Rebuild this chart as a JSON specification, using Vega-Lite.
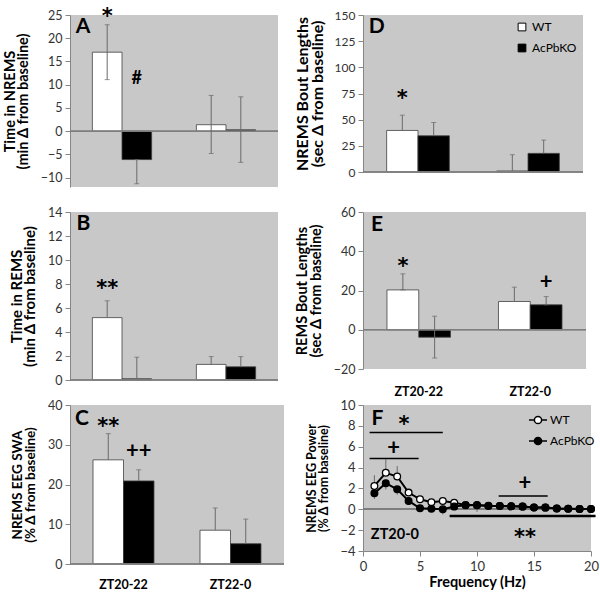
{
  "$schema": "https://vega.github.io/schema/vega-lite/v6.json",
  "padding": {"left": 2, "top": 5, "right": 0, "bottom": 0},
  "columns": 2,
  "spacing": {"row": 25, "column": 79},
  "bounds": "flush",
  "align": "each",
  "resolve": {"scale": {"x": "independent", "y": "independent", "xOffset": "independent", "fill": "independent"}, "legend": {"fill": "independent"}},
  "config": {
    "font": "Lato",
    "view": {"fill": "#c8c8c8", "stroke": null},
    "axis": {"domainColor": "#868686", "tickColor": "#868686", "tickSize": 5, "labelColor": "#333333", "labelFont": "Lato", "labelFontSize": 12.5, "labelOverlap": false, "labelFlush": false, "labelBound": false, "titleFont": "Lato", "titleFontSize": 14.5, "titleFontWeight": "bold", "titleColor": "black", "grid": false, "labelPadding": 3, "titleLineHeight": 13, "titlePadding": 10},
    "axisQuantitative": {"labelOverlap": false, "format": "d", "tickCount": 30},
    "text": {"font": "Lato", "fontWeight": "bold", "color": "black", "baseline": "middle"}
  },
  "concat": [
    {
      "width": 208, "height": 172,
      "data": {"values": [
        {"group": "ZT20-22", "genotype": "WT", "value": 17.0, "lo": 11.1, "hi": 22.9},
        {"group": "ZT20-22", "genotype": "AcPbKO", "value": -6.1, "lo": -11.3, "hi": -6.1},
        {"group": "ZT22-0", "genotype": "WT", "value": 1.4, "lo": -4.8, "hi": 7.7},
        {"group": "ZT22-0", "genotype": "AcPbKO", "value": 0.3, "lo": -6.7, "hi": 7.4}
      ]},
      "layer": [
        {"mark": {"type": "bar", "stroke": "#404040", "strokeWidth": 0.8},
         "encoding": {
           "x": {"field": "group", "type": "nominal", "sort": ["ZT20-22", "ZT22-0"], "scale": {"paddingInner": 0.43, "paddingOuter": 0.215}, "axis": null},
           "xOffset": {"field": "genotype", "type": "nominal", "scale": {"domain": ["WT", "AcPbKO"], "paddingInner": 0, "paddingOuter": 0}},
           "y": {"field": "value", "type": "quantitative", "scale": {"domain": [-12, 25], "nice": false, "zero": false}, "axis": {"values": [-10, -5, 0, 5, 10, 15, 20, 25], "tickCount": 30, "format": "d", "labelOverlap": false, "title": ["Time in NREMS", "(min Δ from baseline)"], "titleFontSize": 14.5, "titleLineHeight": 13}},
           "fill": {"field": "genotype", "type": "nominal", "scale": {"domain": ["WT", "AcPbKO"], "range": ["white", "black"]}, "legend": null}
         }},
        {"mark": {"type": "rule", "color": "#7f7f7f", "strokeWidth": 1}, "encoding": {"y": {"datum": 0}}},
        {"mark": {"type": "rule", "color": "#6a6a6a", "strokeWidth": 1},
         "encoding": {"x": {"field": "group", "type": "nominal"}, "xOffset": {"field": "genotype"}, "y": {"field": "lo", "type": "quantitative"}, "y2": {"field": "hi"}}},
        {"mark": {"type": "tick", "color": "#6a6a6a", "size": 5, "thickness": 1},
         "encoding": {"x": {"field": "group", "type": "nominal"}, "xOffset": {"field": "genotype"}, "y": {"field": "hi", "type": "quantitative"}}},
        {"mark": {"type": "tick", "color": "#6a6a6a", "size": 5, "thickness": 1},
         "encoding": {"x": {"field": "group", "type": "nominal"}, "xOffset": {"field": "genotype"}, "y": {"field": "lo", "type": "quantitative"}}},
        {"data": {"values": [{"group": "ZT20-22", "genotype": "WT", "y": 24.6, "label": "*"}]},
         "mark": {"type": "text", "fontSize": 21, "font": "DejaVu Sans"},
         "encoding": {"x": {"field": "group", "type": "nominal"}, "xOffset": {"field": "genotype"}, "y": {"field": "y", "type": "quantitative"}, "text": {"field": "label"}}},
        {"data": {"values": [{"group": "ZT20-22", "genotype": "AcPbKO", "y": 11.3, "label": "#"}]},
         "mark": {"type": "text", "fontSize": 18},
         "encoding": {"x": {"field": "group", "type": "nominal"}, "xOffset": {"field": "genotype"}, "y": {"field": "y", "type": "quantitative"}, "text": {"field": "label"}}},
        {"data": {"values": [{"group": "ZT20-22", "y": 22.5, "label": "A"}]},
         "mark": {"type": "text", "fontSize": 21, "align": "right", "dx": -2},
         "encoding": {"x": {"field": "group", "type": "nominal", "bandPosition": 0}, "y": {"field": "y", "type": "quantitative"}, "text": {"field": "label"}}}
      ]
    },
    {
      "width": 220, "height": 157,
      "data": {"values": [
        {"group": "ZT20-22", "genotype": "WT", "value": 39.7, "lo": 39.7, "hi": 54.3},
        {"group": "ZT20-22", "genotype": "AcPbKO", "value": 34.6, "lo": 34.6, "hi": 47.3},
        {"group": "ZT22-0", "genotype": "WT", "value": 1.0, "lo": 1.0, "hi": 16.5},
        {"group": "ZT22-0", "genotype": "AcPbKO", "value": 17.8, "lo": 17.8, "hi": 30.5}
      ]},
      "layer": [
        {"mark": {"type": "bar", "stroke": "#404040", "strokeWidth": 0.8},
         "encoding": {
           "x": {"field": "group", "type": "nominal", "sort": ["ZT20-22", "ZT22-0"], "scale": {"paddingInner": 0.43, "paddingOuter": 0.215}, "axis": null},
           "xOffset": {"field": "genotype", "type": "nominal", "scale": {"domain": ["WT", "AcPbKO"], "paddingInner": 0, "paddingOuter": 0}},
           "y": {"field": "value", "type": "quantitative", "scale": {"domain": [0, 150], "nice": false, "zero": false}, "axis": {"values": [0, 25, 50, 75, 100, 125, 150], "tickCount": 30, "format": "d", "labelOverlap": false, "labelFontSize": 12, "title": ["NREMS Bout Lengths", "(sec Δ from baseline)"], "titleFontSize": 16, "titleLineHeight": 15, "titlePadding": 9}},
           "fill": {"field": "genotype", "type": "nominal", "scale": {"domain": ["WT", "AcPbKO"], "range": ["white", "black"]},
             "legend": {"orient": "none", "legendX": 153, "legendY": 6, "title": null, "symbolType": "square", "symbolSize": 60, "symbolStrokeColor": "black", "symbolStrokeWidth": 1, "labelFontSize": 12, "labelFont": "Lato", "labelColor": "black", "rowPadding": 9, "labelOffset": 4, "padding": 0}}
         }},
        {"mark": {"type": "rule", "color": "#7f7f7f", "strokeWidth": 1}, "encoding": {"y": {"datum": 0}}},
        {"mark": {"type": "rule", "color": "#6a6a6a", "strokeWidth": 1},
         "encoding": {"x": {"field": "group", "type": "nominal"}, "xOffset": {"field": "genotype"}, "y": {"field": "lo", "type": "quantitative"}, "y2": {"field": "hi"}}},
        {"mark": {"type": "tick", "color": "#6a6a6a", "size": 5, "thickness": 1},
         "encoding": {"x": {"field": "group", "type": "nominal"}, "xOffset": {"field": "genotype"}, "y": {"field": "hi", "type": "quantitative"}}},
        {"data": {"values": [{"group": "ZT20-22", "genotype": "WT", "y": 69.4, "label": "*"}]},
         "mark": {"type": "text", "fontSize": 21, "font": "DejaVu Sans"},
         "encoding": {"x": {"field": "group", "type": "nominal"}, "xOffset": {"field": "genotype"}, "y": {"field": "y", "type": "quantitative"}, "text": {"field": "label"}}},
        {"data": {"values": [{"group": "ZT20-22", "y": 138.8, "label": "D"}]},
         "mark": {"type": "text", "fontSize": 21, "align": "right", "dx": -2},
         "encoding": {"x": {"field": "group", "type": "nominal", "bandPosition": 0}, "y": {"field": "y", "type": "quantitative"}, "text": {"field": "label"}}}
      ]
    },
    {
      "width": 208, "height": 168,
      "data": {"values": [
        {"group": "ZT20-22", "genotype": "WT", "value": 5.2, "lo": 5.2, "hi": 6.6},
        {"group": "ZT20-22", "genotype": "AcPbKO", "value": 0.1, "lo": 0.1, "hi": 1.9},
        {"group": "ZT22-0", "genotype": "WT", "value": 1.3, "lo": 1.3, "hi": 1.95},
        {"group": "ZT22-0", "genotype": "AcPbKO", "value": 1.1, "lo": 1.1, "hi": 1.95}
      ]},
      "layer": [
        {"mark": {"type": "bar", "stroke": "#404040", "strokeWidth": 0.8},
         "encoding": {
           "x": {"field": "group", "type": "nominal", "sort": ["ZT20-22", "ZT22-0"], "scale": {"paddingInner": 0.43, "paddingOuter": 0.215}, "axis": null},
           "xOffset": {"field": "genotype", "type": "nominal", "scale": {"domain": ["WT", "AcPbKO"], "paddingInner": 0, "paddingOuter": 0}},
           "y": {"field": "value", "type": "quantitative", "scale": {"domain": [0, 14], "nice": false, "zero": false}, "axis": {"values": [0, 2, 4, 6, 8, 10, 12, 14], "tickCount": 30, "format": "d", "labelOverlap": false, "title": ["Time in REMS", "(min Δ from baseline)"], "titleFontSize": 15, "titleLineHeight": 13.5}},
           "fill": {"field": "genotype", "type": "nominal", "scale": {"domain": ["WT", "AcPbKO"], "range": ["white", "black"]}, "legend": null}
         }},
        {"mark": {"type": "rule", "color": "#7f7f7f", "strokeWidth": 1}, "encoding": {"y": {"datum": 0}}},
        {"mark": {"type": "rule", "color": "#6a6a6a", "strokeWidth": 1},
         "encoding": {"x": {"field": "group", "type": "nominal"}, "xOffset": {"field": "genotype"}, "y": {"field": "lo", "type": "quantitative"}, "y2": {"field": "hi"}}},
        {"mark": {"type": "tick", "color": "#6a6a6a", "size": 5, "thickness": 1},
         "encoding": {"x": {"field": "group", "type": "nominal"}, "xOffset": {"field": "genotype"}, "y": {"field": "hi", "type": "quantitative"}}},
        {"data": {"values": [{"group": "ZT20-22", "genotype": "WT", "y": 7.6, "label": "**"}]},
         "mark": {"type": "text", "fontSize": 21, "font": "DejaVu Sans"},
         "encoding": {"x": {"field": "group", "type": "nominal"}, "xOffset": {"field": "genotype"}, "y": {"field": "y", "type": "quantitative"}, "text": {"field": "label"}}},
        {"data": {"values": [{"group": "ZT20-22", "y": 13.0, "label": "B"}]},
         "mark": {"type": "text", "fontSize": 21, "align": "right", "dx": -2},
         "encoding": {"x": {"field": "group", "type": "nominal", "bandPosition": 0}, "y": {"field": "y", "type": "quantitative"}, "text": {"field": "label"}}}
      ]
    },
    {
      "width": 223, "height": 157,
      "data": {"values": [
        {"group": "ZT20-22", "genotype": "WT", "value": 20.3, "lo": 20.3, "hi": 28.5},
        {"group": "ZT20-22", "genotype": "AcPbKO", "value": -3.8, "lo": -14.4, "hi": 6.9},
        {"group": "ZT22-0", "genotype": "WT", "value": 14.4, "lo": 14.4, "hi": 21.7},
        {"group": "ZT22-0", "genotype": "AcPbKO", "value": 12.7, "lo": 12.7, "hi": 16.9}
      ]},
      "layer": [
        {"mark": {"type": "bar", "stroke": "#404040", "strokeWidth": 0.8},
         "encoding": {
           "x": {"field": "group", "type": "nominal", "sort": ["ZT20-22", "ZT22-0"], "scale": {"paddingInner": 0.43, "paddingOuter": 0.215}, "axis": {"title": null, "ticks": false, "domain": false, "labelAngle": 0, "labelFontSize": 12.5, "labelFontWeight": "bold", "labelColor": "black", "labelPadding": 16}},
           "xOffset": {"field": "genotype", "type": "nominal", "scale": {"domain": ["WT", "AcPbKO"], "paddingInner": 0, "paddingOuter": 0}},
           "y": {"field": "value", "type": "quantitative", "scale": {"domain": [-20, 60], "nice": false, "zero": false}, "axis": {"values": [-20, 0, 20, 40, 60], "tickCount": 30, "format": "d", "labelOverlap": false, "title": ["REMS Bout Lengths", "(sec Δ from  baseline)"], "titleFontSize": 14.5, "titleLineHeight": 14}},
           "fill": {"field": "genotype", "type": "nominal", "scale": {"domain": ["WT", "AcPbKO"], "range": ["white", "black"]}, "legend": null}
         }},
        {"mark": {"type": "rule", "color": "#7f7f7f", "strokeWidth": 1}, "encoding": {"y": {"datum": 0}}},
        {"mark": {"type": "rule", "color": "#6a6a6a", "strokeWidth": 1},
         "encoding": {"x": {"field": "group", "type": "nominal"}, "xOffset": {"field": "genotype"}, "y": {"field": "lo", "type": "quantitative"}, "y2": {"field": "hi"}}},
        {"mark": {"type": "tick", "color": "#6a6a6a", "size": 5, "thickness": 1},
         "encoding": {"x": {"field": "group", "type": "nominal"}, "xOffset": {"field": "genotype"}, "y": {"field": "hi", "type": "quantitative"}}},
        {"mark": {"type": "tick", "color": "#6a6a6a", "size": 5, "thickness": 1},
         "encoding": {"x": {"field": "group", "type": "nominal"}, "xOffset": {"field": "genotype"}, "y": {"field": "lo", "type": "quantitative"}}},
        {"data": {"values": [{"group": "ZT20-22", "genotype": "WT", "y": 32.2, "label": "*"}]},
         "mark": {"type": "text", "fontSize": 21, "font": "DejaVu Sans"},
         "encoding": {"x": {"field": "group", "type": "nominal"}, "xOffset": {"field": "genotype"}, "y": {"field": "y", "type": "quantitative"}, "text": {"field": "label"}}},
        {"data": {"values": [{"group": "ZT22-0", "genotype": "AcPbKO", "y": 24.3, "label": "+"}]},
         "mark": {"type": "text", "fontSize": 22},
         "encoding": {"x": {"field": "group", "type": "nominal"}, "xOffset": {"field": "genotype"}, "y": {"field": "y", "type": "quantitative"}, "text": {"field": "label"}}},
        {"data": {"values": [{"group": "ZT20-22", "y": 53.2, "label": "E"}]},
         "mark": {"type": "text", "fontSize": 21, "align": "right", "dx": -4},
         "encoding": {"x": {"field": "group", "type": "nominal", "bandPosition": 0}, "y": {"field": "y", "type": "quantitative"}, "text": {"field": "label"}}}
      ]
    },
    {
      "width": 214, "height": 159,
      "data": {"values": [
        {"group": "ZT20-22", "genotype": "WT", "value": 26.2, "lo": 26.2, "hi": 32.8},
        {"group": "ZT20-22", "genotype": "AcPbKO", "value": 20.9, "lo": 20.9, "hi": 23.7},
        {"group": "ZT22-0", "genotype": "WT", "value": 8.5, "lo": 8.5, "hi": 14.1},
        {"group": "ZT22-0", "genotype": "AcPbKO", "value": 5.1, "lo": 5.1, "hi": 11.3}
      ]},
      "layer": [
        {"mark": {"type": "bar", "stroke": "#404040", "strokeWidth": 0.8},
         "encoding": {
           "x": {"field": "group", "type": "nominal", "sort": ["ZT20-22", "ZT22-0"], "scale": {"paddingInner": 0.43, "paddingOuter": 0.215}, "axis": {"title": null, "ticks": false, "domain": false, "labelAngle": 0, "labelFontSize": 12.5, "labelFontWeight": "bold", "labelColor": "black", "labelPadding": 14}},
           "xOffset": {"field": "genotype", "type": "nominal", "scale": {"domain": ["WT", "AcPbKO"], "paddingInner": 0, "paddingOuter": 0}},
           "y": {"field": "value", "type": "quantitative", "scale": {"domain": [0, 40], "nice": false, "zero": false}, "axis": {"values": [0, 10, 20, 30, 40], "tickCount": 30, "format": "d", "labelOverlap": false, "title": ["NREMS EEG SWA", "(% Δ from baseline)"], "titleFontSize": 13.5, "titleLineHeight": 13}},
           "fill": {"field": "genotype", "type": "nominal", "scale": {"domain": ["WT", "AcPbKO"], "range": ["white", "black"]}, "legend": null}
         }},
        {"mark": {"type": "rule", "color": "#7f7f7f", "strokeWidth": 1}, "encoding": {"y": {"datum": 0}}},
        {"mark": {"type": "rule", "color": "#6a6a6a", "strokeWidth": 1},
         "encoding": {"x": {"field": "group", "type": "nominal"}, "xOffset": {"field": "genotype"}, "y": {"field": "lo", "type": "quantitative"}, "y2": {"field": "hi"}}},
        {"mark": {"type": "tick", "color": "#6a6a6a", "size": 5, "thickness": 1},
         "encoding": {"x": {"field": "group", "type": "nominal"}, "xOffset": {"field": "genotype"}, "y": {"field": "hi", "type": "quantitative"}}},
        {"data": {"values": [{"group": "ZT20-22", "genotype": "WT", "y": 34.4, "label": "**"}]},
         "mark": {"type": "text", "fontSize": 21, "font": "DejaVu Sans"},
         "encoding": {"x": {"field": "group", "type": "nominal"}, "xOffset": {"field": "genotype"}, "y": {"field": "y", "type": "quantitative"}, "text": {"field": "label"}}},
        {"data": {"values": [{"group": "ZT20-22", "genotype": "AcPbKO", "y": 28.4, "label": "++"}]},
         "mark": {"type": "text", "fontSize": 22},
         "encoding": {"x": {"field": "group", "type": "nominal"}, "xOffset": {"field": "genotype"}, "y": {"field": "y", "type": "quantitative"}, "text": {"field": "label"}}},
        {"data": {"values": [{"group": "ZT20-22", "y": 36.4, "label": "C"}]},
         "mark": {"type": "text", "fontSize": 21, "align": "right", "dx": -4},
         "encoding": {"x": {"field": "group", "type": "nominal", "bandPosition": 0}, "y": {"field": "y", "type": "quantitative"}, "text": {"field": "label"}}}
      ]
    },
    {
      "width": 228, "height": 146,
      "data": {"values": [
        {"hz": 1, "genotype": "WT", "value": 2.24}, {"hz": 2, "genotype": "WT", "value": 3.5}, {"hz": 3, "genotype": "WT", "value": 3.14}, {"hz": 4, "genotype": "WT", "value": 1.6}, {"hz": 5, "genotype": "WT", "value": 0.96}, {"hz": 6, "genotype": "WT", "value": 0.68}, {"hz": 7, "genotype": "WT", "value": 0.8}, {"hz": 8, "genotype": "WT", "value": 0.62}, {"hz": 9, "genotype": "WT", "value": 0.42}, {"hz": 10, "genotype": "WT", "value": 0.4}, {"hz": 11, "genotype": "WT", "value": 0.34}, {"hz": 12, "genotype": "WT", "value": 0.32}, {"hz": 13, "genotype": "WT", "value": 0.28}, {"hz": 14, "genotype": "WT", "value": 0.26}, {"hz": 15, "genotype": "WT", "value": 0.18}, {"hz": 16, "genotype": "WT", "value": 0.16}, {"hz": 17, "genotype": "WT", "value": 0.08}, {"hz": 18, "genotype": "WT", "value": 0.06}, {"hz": 19, "genotype": "WT", "value": 0.02}, {"hz": 20, "genotype": "WT", "value": 0.02},
        {"hz": 1, "genotype": "AcPbKO", "value": 1.54}, {"hz": 2, "genotype": "AcPbKO", "value": 2.5}, {"hz": 3, "genotype": "AcPbKO", "value": 1.92}, {"hz": 4, "genotype": "AcPbKO", "value": 0.8}, {"hz": 5, "genotype": "AcPbKO", "value": 0.1}, {"hz": 6, "genotype": "AcPbKO", "value": 0.05}, {"hz": 7, "genotype": "AcPbKO", "value": 0.0}, {"hz": 8, "genotype": "AcPbKO", "value": 0.26}, {"hz": 9, "genotype": "AcPbKO", "value": 0.38}, {"hz": 10, "genotype": "AcPbKO", "value": 0.38}, {"hz": 11, "genotype": "AcPbKO", "value": 0.32}, {"hz": 12, "genotype": "AcPbKO", "value": 0.32}, {"hz": 13, "genotype": "AcPbKO", "value": 0.28}, {"hz": 14, "genotype": "AcPbKO", "value": 0.26}, {"hz": 15, "genotype": "AcPbKO", "value": 0.18}, {"hz": 16, "genotype": "AcPbKO", "value": 0.16}, {"hz": 17, "genotype": "AcPbKO", "value": 0.08}, {"hz": 18, "genotype": "AcPbKO", "value": 0.06}, {"hz": 19, "genotype": "AcPbKO", "value": 0.02}, {"hz": 20, "genotype": "AcPbKO", "value": 0.02}
      ]},
      "layer": [
        {"mark": {"type": "rule", "color": "#7f7f7f", "strokeWidth": 1}, "encoding": {"y": {"datum": 0, "type": "quantitative", "scale": {"domain": [-4, 10], "nice": false, "zero": false}}}},
        {"data": {"values": [
          {"hz": 1, "lo": 2.24, "hi": 3.27}, {"hz": 2, "lo": 3.5, "hi": 4.8}, {"hz": 3, "lo": 3.14, "hi": 4.15},
          {"hz": 1, "lo": 1.0, "hi": 1.54}, {"hz": 2, "lo": 1.9, "hi": 2.5}, {"hz": 3, "lo": 1.4, "hi": 1.92}, {"hz": 7, "lo": -0.5, "hi": 0.0}, {"hz": 10, "lo": -0.25, "hi": 0.38}
        ]},
         "mark": {"type": "rule", "color": "#6a6a6a", "strokeWidth": 1},
         "encoding": {"x": {"field": "hz", "type": "quantitative"}, "y": {"field": "lo", "type": "quantitative"}, "y2": {"field": "hi"}}},
        {"data": {"values": [{"x1": 0.58, "x2": 7.0, "y": 7.37}, {"x1": 0.58, "x2": 4.88, "y": 4.87}, {"x1": 11.9, "x2": 16.2, "y": 1.28}]},
         "mark": {"type": "rule", "color": "black", "strokeWidth": 1.6},
         "encoding": {"x": {"field": "x1", "type": "quantitative"}, "x2": {"field": "x2"}, "y": {"field": "y", "type": "quantitative"}}},
        {"data": {"values": [{"x1": 7.6, "x2": 20.4, "y": -0.64}]},
         "mark": {"type": "rule", "color": "black", "strokeWidth": 2.6},
         "encoding": {"x": {"field": "x1", "type": "quantitative"}, "x2": {"field": "x2"}, "y": {"field": "y", "type": "quantitative"}}},
        {"mark": {"type": "line", "color": "black", "strokeWidth": 2},
         "encoding": {"x": {"field": "hz", "type": "quantitative"}, "y": {"field": "value", "type": "quantitative"}, "detail": {"field": "genotype"}}},
        {"mark": {"type": "point", "filled": true, "stroke": "black", "strokeWidth": 1.3, "size": 45, "opacity": 1},
         "encoding": {
           "x": {"field": "hz", "type": "quantitative", "scale": {"domain": [0, 20], "nice": false}, "axis": {"values": [0, 5, 10, 15, 20], "tickCount": 30, "format": "d", "labelOverlap": false, "title": "Frequency (Hz)", "labelFontSize": 13, "titleFontSize": 14.5, "titleLineHeight": 15, "labelPadding": 4, "titlePadding": 2}},
           "y": {"field": "value", "type": "quantitative", "axis": {"values": [-4, -2, 0, 2, 4, 6, 8, 10], "tickCount": 30, "format": "d", "labelOverlap": false, "labelFontSize": 13, "title": ["NREMS EEG Power", "(% Δ from baseline)"], "titleFontSize": 12.5, "titleLineHeight": 12.5, "titlePadding": 9}},
           "fill": {"field": "genotype", "type": "nominal", "scale": {"domain": ["WT", "AcPbKO"], "range": ["white", "black"]},
             "legend": {"orient": "none", "legendX": 165, "legendY": 5, "title": null, "symbolType": "M-1,0L-0.4,0M0.4,0L1,0M0.4,0A0.4,0.4,0,1,1,-0.4,0A0.4,0.4,0,1,1,0.4,0Z", "symbolSize": 324, "symbolStrokeColor": "black", "symbolStrokeWidth": 1.5, "labelFontSize": 12, "labelFont": "Lato", "labelColor": "black", "rowPadding": 4, "labelOffset": 2, "padding": 0}}
         }},
        {"data": {"values": [{"x": 1.26, "y": 8.65, "label": "F"}]},
         "mark": {"type": "text", "fontSize": 21},
         "encoding": {"x": {"field": "x", "type": "quantitative"}, "y": {"field": "y", "type": "quantitative"}, "text": {"field": "label"}}},
        {"data": {"values": [{"x": 3.6, "y": 8.1, "label": "*"}, {"x": 14.2, "y": -2.72, "label": "**"}]},
         "mark": {"type": "text", "fontSize": 21, "font": "DejaVu Sans"},
         "encoding": {"x": {"field": "x", "type": "quantitative"}, "y": {"field": "y", "type": "quantitative"}, "text": {"field": "label"}}},
        {"data": {"values": [{"x": 2.69, "y": 5.83, "label": "+"}, {"x": 14.2, "y": 2.56, "label": "+"}]},
         "mark": {"type": "text", "fontSize": 22},
         "encoding": {"x": {"field": "x", "type": "quantitative"}, "y": {"field": "y", "type": "quantitative"}, "text": {"field": "label"}}},
        {"data": {"values": [{"x": 2.8, "y": -2.47, "label": "ZT20-0"}]},
         "mark": {"type": "text", "fontSize": 14.5},
         "encoding": {"x": {"field": "x", "type": "quantitative"}, "y": {"field": "y", "type": "quantitative"}, "text": {"field": "label"}}}
      ]
    }
  ]
}
